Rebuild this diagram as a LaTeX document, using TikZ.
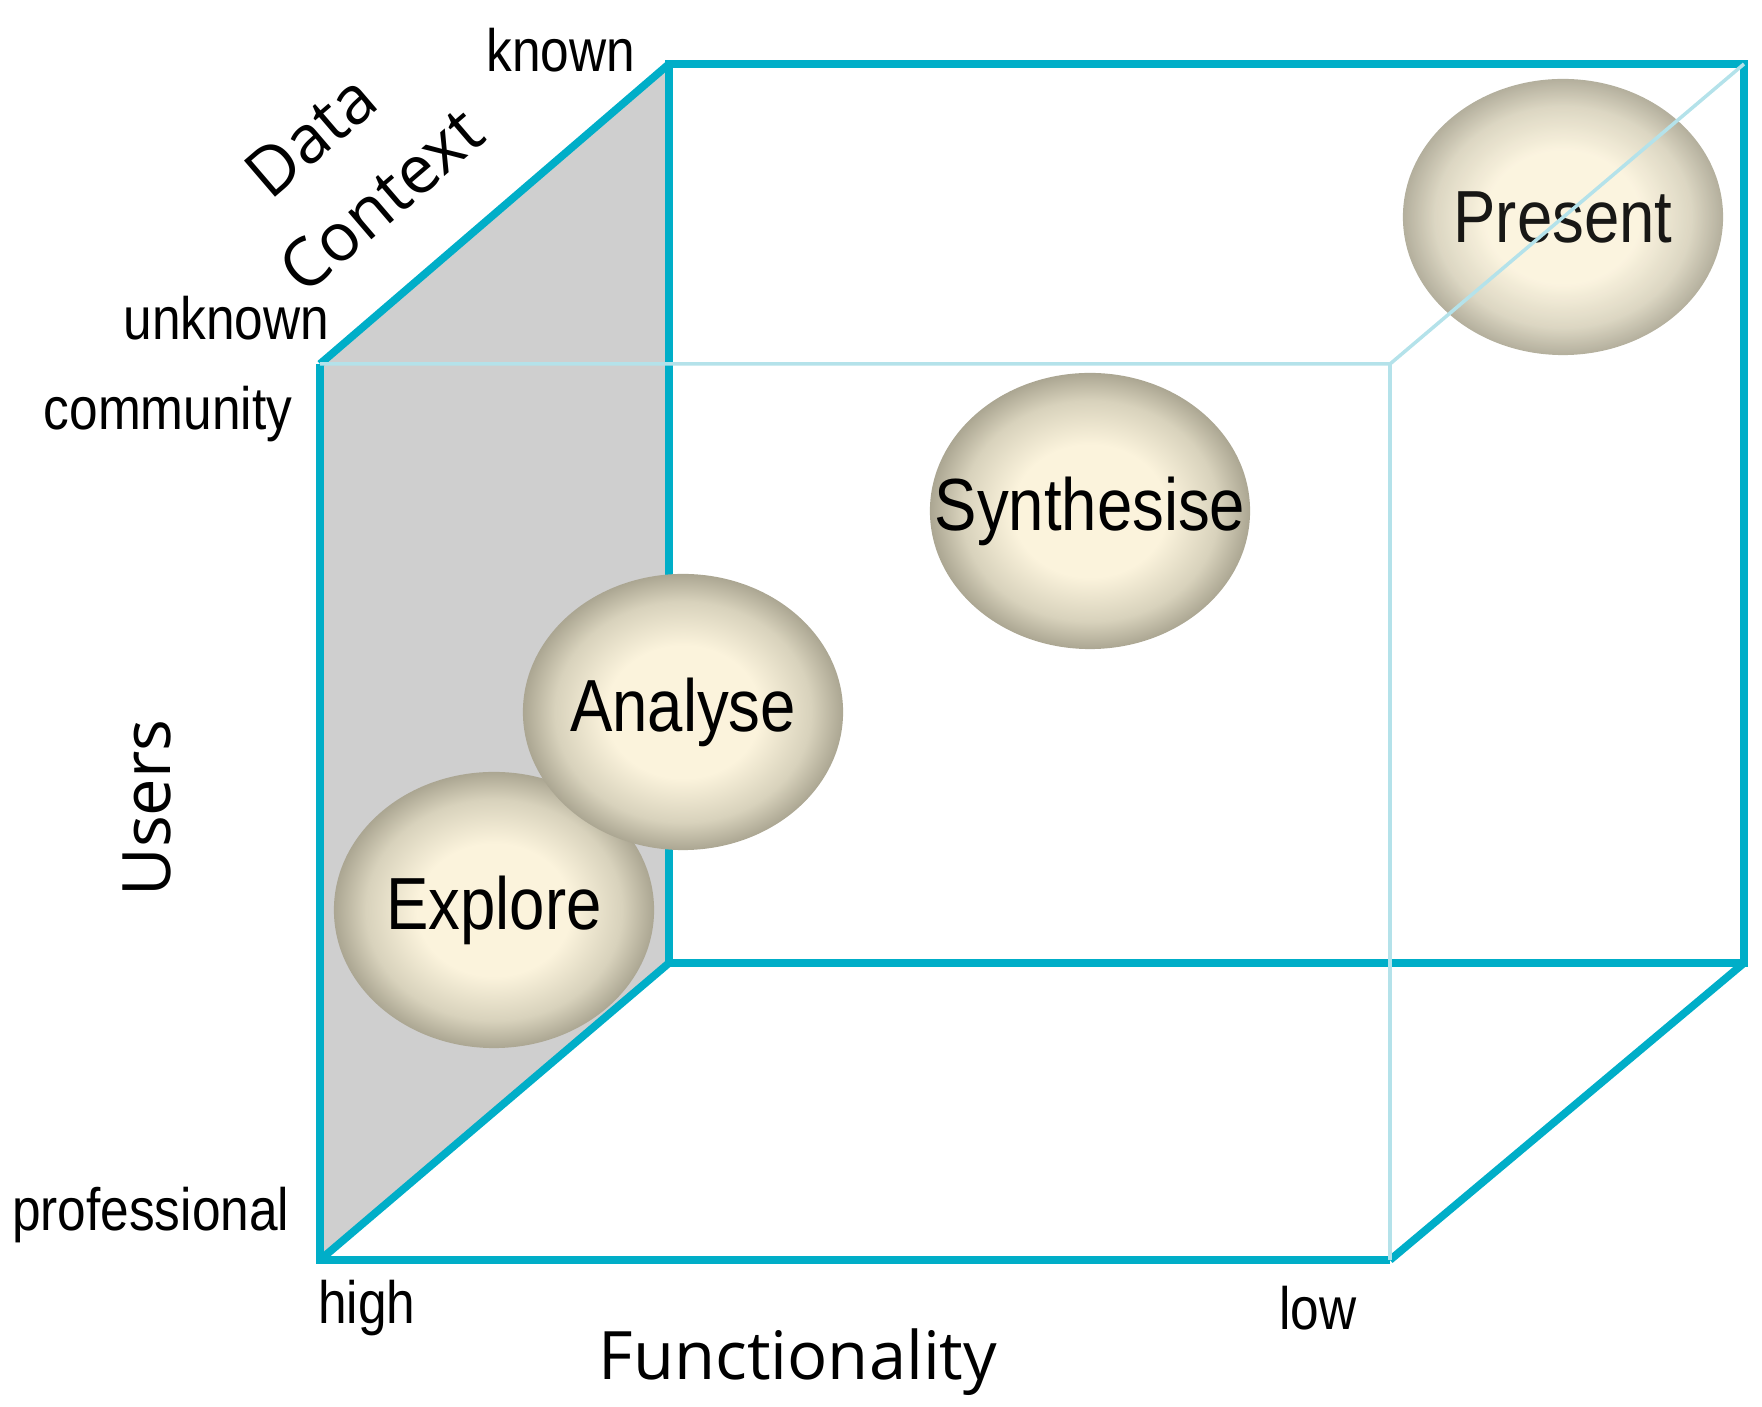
\documentclass[tikz,border=0pt]{standalone}
\usetikzlibrary{shapes.geometric}
\usepackage{fontspec}
\setmainfont{Liberation Sans}
\newfontfamily\nar[FakeStretch=0.86]{Liberation Sans}
\newfontfamily\axf{Open Sans}
\definecolor{teal}{HTML}{00AEC8}
\definecolor{lteal}{HTML}{B4E2EA}
\definecolor{sph1}{HTML}{FBF3DC}
\definecolor{sph2}{HTML}{D8D2BC}
\definecolor{sph3}{HTML}{ABA692}
\pgfdeclareradialshading{sphere}{\pgfpoint{0bp}{0bp}}{color(0bp)=(sph1); color(12bp)=(sph1); color(20bp)=(sph2); color(25bp)=(sph3); color(50bp)=(sph3)}
\newcommand{\zb}[1]{\makebox[0pt]{#1}}
\begin{document}
\begin{tikzpicture}[x=0.01cm,y=-0.01cm,
  bold/.style={draw=teal,line width=2.2pt,line join=miter},
  thin/.style={draw=lteal,line width=1pt},
  ball/.style={ellipse,minimum width=3.2cm,minimum height=2.76cm,inner sep=0pt,shading=sphere,font=\nar\fontsize{21}{24}\selectfont},
  lab/.style={font=\nar\fontsize{17}{20}\selectfont,inner sep=0pt},
  ax/.style={font=\axf\fontsize{19}{22}\selectfont,inner sep=0pt}]
\useasboundingbox (0,0) rectangle (1762,1407);
\coordinate (FTL) at (320,364); \coordinate (FBL) at (320,1260);
\coordinate (FTR) at (1390,364); \coordinate (FBR) at (1390,1260);
\coordinate (BTL) at (669,64); \coordinate (BBL) at (669,963);
\coordinate (BTR) at (1744,64); \coordinate (BBR) at (1744,963);
\fill[gray!38] (FTL) -- (BTL) -- (BBL) -- (FBL) -- cycle;
\draw[bold] (BTL) rectangle (BBR);
\draw[bold] (FTL) -- (BTL) (FBL) -- (BBL) (FBR) -- (BBR);
\draw[bold] (FTL) -- (FBL) -- (FBR);
\node[ball] (ex) at (494,910) {\zb{Explore}};
\node[ball] (an) at (683,712) {\zb{Analyse}};
\node[ball] (sy) at (1090,511) {\zb{Synthesise}};
\node[ball,opacity=0.9] (pr) at (1563,217) {\zb{Present}};
\draw[thin] (FTL) -- (FTR) -- (FBR) (FTR) -- (BTR);
\node[lab,anchor=east] (kn) at (636,50) {known};
\node[lab,anchor=east] (un) at (330,318) {unknown};
\node[lab,anchor=east] (co) at (293,414) {community};
\node[lab,anchor=east] (pf) at (290,1215) {professional};
\node[lab] (hi) at (367,1308) {high};
\node[lab] (lo) at (1318,1308) {low};
\node[ax] (fu) at (798,1362) {Functionality};
\node[ax,rotate=90] (us) at (147,808) {Users};
\node[ax,rotate=40.6] (da) at (311,136) {Data};
\node[ax,rotate=40.6] (cx) at (381,200) {Context};
\end{tikzpicture}
\end{document}
